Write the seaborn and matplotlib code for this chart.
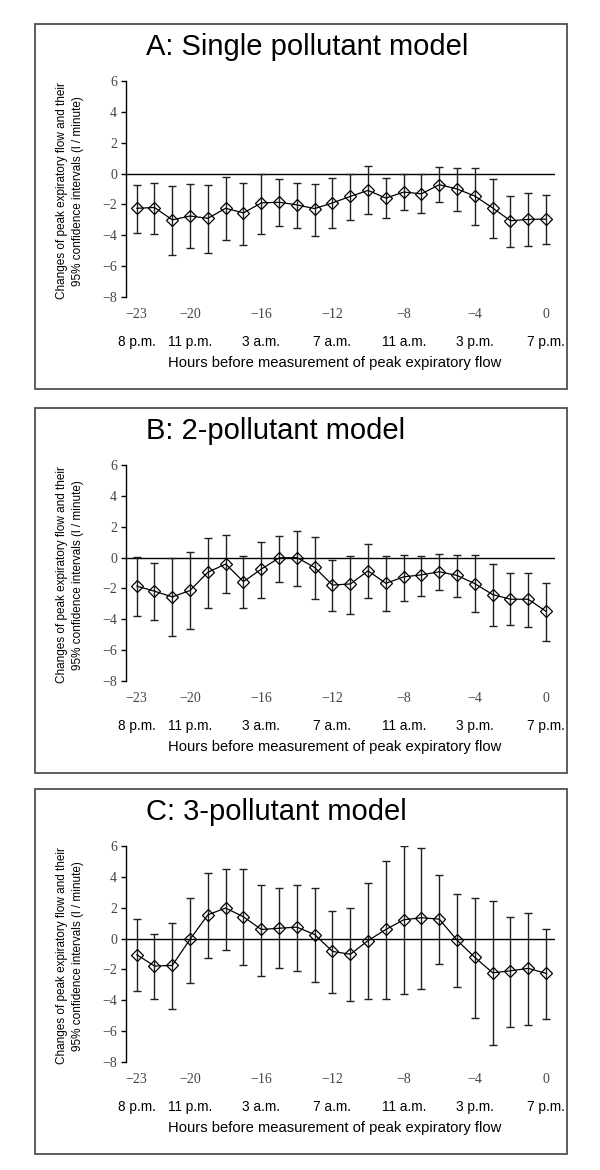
import numpy as np
import pandas as pd
import matplotlib
matplotlib.use("Agg")
import matplotlib.pyplot as plt
from matplotlib.patches import Rectangle
import seaborn as sns

# ------------------------------
# Data (estimates, l/minute)
# ------------------------------
hours = list(range(-23, 1))

est_a = [-2.25, -2.2, -3.0, -2.75, -2.9, -2.25, -2.55, -1.9, -1.86, -2.03, -2.27, -1.9,
         -1.48, -1.09, -1.59, -1.2, -1.31, -0.72, -1.0, -1.46, -2.23, -3.06, -2.97, -2.95]
low_a = [-3.86, -3.9, -5.3, -4.85, -5.17, -4.28, -4.65, -3.9, -3.43, -3.56, -4.04, -3.56,
         -3.01, -2.64, -2.88, -2.34, -2.58, -1.86, -2.42, -3.36, -4.17, -4.76, -4.69, -4.59]
up_a = [-0.72, -0.6, -0.8, -0.65, -0.72, -0.24, -0.6, 0.0, -0.37, -0.61, -0.66, -0.3,
        0.0, 0.5, -0.3, -0.02, -0.02, 0.44, 0.37, 0.37, -0.35, -1.46, -1.27, -1.38]

est_b = [-1.85, -2.18, -2.55, -2.13, -0.95, -0.42, -1.56, -0.75, -0.02, 0.0, -0.64, -1.78,
         -1.71, -0.86, -1.67, -1.25, -1.12, -0.92, -1.16, -1.69, -2.4, -2.7, -2.7, -3.49]
low_b = [-3.76, -4.07, -5.1, -4.62, -3.27, -2.29, -3.27, -2.62, -1.56, -1.85, -2.68, -3.49,
         -3.63, -2.59, -3.49, -2.79, -2.46, -2.11, -2.57, -3.54, -4.46, -4.4, -4.48, -5.38]
up_b = [0.02, -0.35, -0.04, 0.33, 1.3, 1.45, 0.07, 1.03, 1.38, 1.69, 1.34, -0.15,
        0.11, 0.9, 0.11, 0.18, 0.11, 0.24, 0.18, 0.18, -0.42, -1.03, -1.03, -1.65]

est_c = [-1.04, -1.78, -1.74, -0.04, 1.54, 1.98, 1.41, 0.59, 0.67, 0.74, 0.26, -0.83,
         -1.02, -0.13, 0.59, 1.22, 1.35, 1.26, -0.11, -1.22, -2.22, -2.09, -1.93, -2.26]
low_c = [-3.39, -3.89, -4.54, -2.85, -1.24, -0.72, -1.74, -2.41, -1.91, -2.11, -2.8, -3.54,
         -4.07, -3.89, -3.89, -3.61, -3.3, -1.67, -3.13, -5.13, -6.9, -5.7, -5.57, -5.2]
up_c = [1.26, 0.3, 1.0, 2.65, 4.25, 4.5, 4.5, 3.48, 3.26, 3.48, 3.26, 1.8,
        1.98, 3.59, 5.0, 6.0, 5.85, 4.1, 2.87, 2.65, 2.41, 1.43, 1.67, 0.63]

tick_hours = [-23, -20, -16, -12, -8, -4, 0]
tick_times = ["8 p.m.", "11 p.m.", "3 a.m.", "7 a.m.", "11 a.m.", "3 p.m.", "7 p.m."]

titles = ["A: Single pollutant model", "B: 2-pollutant model", "C: 3-pollutant model"]
ylabel = "Changes of peak expiratory flow and their\n95% confidence intervals (l / minute)"
xlabel = "Hours before measurement of peak expiratory flow"

panels = [(est_a, low_a, up_a), (est_b, low_b, up_b), (est_c, low_c, up_c)]

# ------------------------------
# Style
# ------------------------------
sns.set_style("white")
plt.rcParams["font.family"] = ["Liberation Sans", "DejaVu Sans"]
plt.rcParams["text.color"] = "black"

W, H = 600, 1170
fig = plt.figure(figsize=(W / 100, H / 100), dpi=100)


def fx(px):
    return px / W


def fy(py):
    return 1 - py / H


# box top of each panel, in pixels from the top
box_tops = [24, 408, 789]

for i, (est, low, up) in enumerate(panels):
    top = box_tops[i]
    # outer frame
    fig.patches.append(Rectangle((fx(35), fy(top + 365)), fx(567) - fx(35), fy(top) - fy(top + 365),
                                 transform=fig.transFigure, fill=False,
                                 edgecolor="#505050", linewidth=1.3))
    fig.text(fx(146), fy(top + 23), titles[i], fontsize=21, ha="left", va="center", color="black")

    ax_top = top + 57
    ax_bot = top + 273
    ax = fig.add_axes([fx(126), fy(ax_bot), fx(555) - fx(126), fy(ax_top) - fy(ax_bot)])

    df = pd.DataFrame({"hour": hours, "est": est, "low": low, "up": up})
    yerr = np.vstack([df["est"] - df["low"], df["up"] - df["est"]])
    ax.axhline(0, color="black", linewidth=1, zorder=1)
    ax.errorbar(df["hour"], df["est"], yerr=yerr, fmt="none", ecolor="#202020",
                elinewidth=1, capsize=3, capthick=1, zorder=2)
    sns.lineplot(data=df, x="hour", y="est", ax=ax, color="black", linewidth=0.9,
                 marker="D", markersize=6.2, markerfacecolor="none",
                 markeredgecolor="black", markeredgewidth=0.9, zorder=3)

    ax.set_xlim(-23.6, 0.5)
    ax.set_ylim(-8, 6)
    ax.set_yticks(range(-8, 7, 2))
    ax.set_xticks(tick_hours)
    ax.set_xticklabels([str(h).replace("-", "\u2212") for h in tick_hours],
                       fontfamily="Liberation Serif", fontsize=10, color="#444444")
    ax.set_yticklabels([str(v).replace("-", "\u2212") for v in range(-8, 7, 2)],
                       fontfamily="Liberation Serif", fontsize=10, color="#444444")
    ax.tick_params(axis="x", length=0, pad=8)
    ax.tick_params(axis="y", direction="out", length=3.5, width=1, color="black", pad=3, left=True)
    for s in ["top", "right", "bottom"]:
        ax.spines[s].set_visible(False)
    ax.spines["left"].set_color("black")
    ax.spines["left"].set_linewidth(1)
    ax.set_xlabel("")
    ax.set_ylabel("")

    for h, t in zip(tick_hours, tick_times):
        ax.text(h, -45 / 216, t, transform=ax.get_xaxis_transform(),
                ha="center", va="center", fontsize=9.8, color="black")
    fig.text(fx(335), fy(ax_bot + 66), xlabel, ha="center", va="center", fontsize=10.6,
             color="black")

    fig.text(fx(70), (fy(ax_top) + fy(ax_bot)) / 2 - 2 / H, ylabel, rotation=90,
             ha="center", va="center", fontsize=8.5, linespacing=1.35, color="black")

fig.savefig("out.png", dpi=100)
